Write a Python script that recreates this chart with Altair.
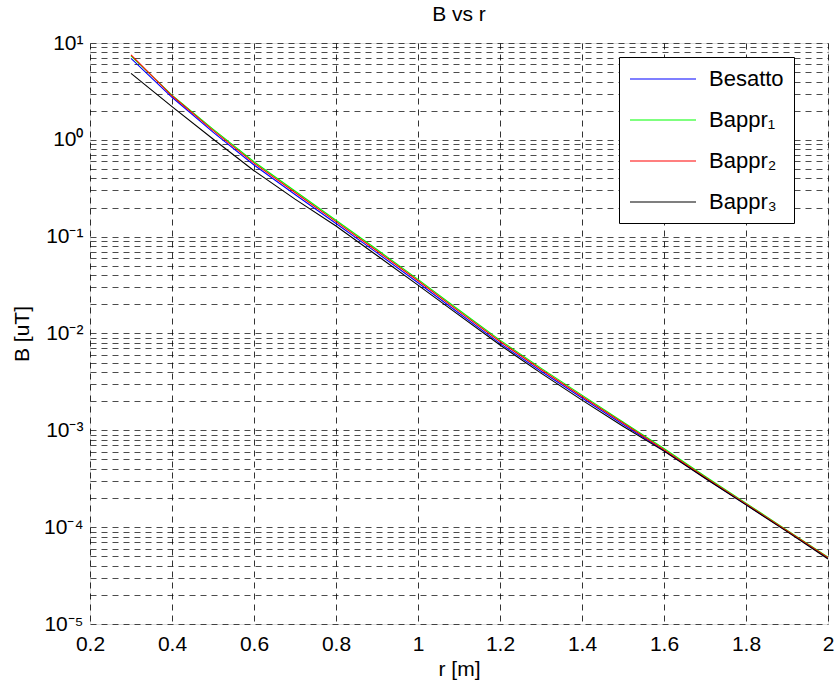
import altair as alt
import pandas as pd

r = [0.3, 0.4, 0.5, 0.6, 0.7, 0.8, 0.9, 1.0, 1.1, 1.2, 1.3, 1.4, 1.5, 1.6, 1.7, 1.8, 1.9, 2.0]
besatto = [6.95, 2.75, 1.2, 0.55, 0.273, 0.137, 0.068, 0.0334, 0.0162, 0.0079, 0.00407,
           0.00216, 0.00115, 6.2e-4, 3.22e-4, 1.71e-4, 9.1e-5, 4.8e-5]
bappr1 = [7.35, 2.90, 1.29, 0.594, 0.296, 0.148, 0.0736, 0.0362, 0.0175, 0.00855, 0.00439,
          0.00231, 0.00122, 6.5e-4, 3.36e-4, 1.77e-4, 9.31e-5, 4.9e-5]
bappr2 = [7.55, 2.85, 1.25, 0.575, 0.286, 0.143, 0.0712, 0.035, 0.0169, 0.00826, 0.00425,
          0.00224, 0.00119, 6.3e-4, 3.28e-4, 1.74e-4, 9.2e-5, 4.85e-5]
bappr3 = [4.86, 2.2, 1.02, 0.48, 0.244, 0.129, 0.0638, 0.0316, 0.0155, 0.0076, 0.0039,
          0.00205, 0.0011, 6.1e-4, 3.2e-4, 1.7e-4, 9.0e-5, 4.7e-5]

series_names = ["Besatto", "Bappr₁", "Bappr₂", "Bappr₃"]
series_colors = ["#0000ff", "#00ff00", "#ff0000", "#000000"]
x_ticks = [0.2, 0.4, 0.6, 0.8, 1.0, 1.2, 1.4, 1.6, 1.8, 2.0]
y_grid = [m * 10.0 ** e for e in range(-5, 1) for m in range(1, 10)] + [10.0]

rows = []
for name, vals in zip(series_names, [besatto, bappr1, bappr2, bappr3]):
    for i, (xv, yv) in enumerate(zip(r, vals)):
        rows.append({"r": xv, "B": yv, "series": name, "idx": i})
df = pd.DataFrame(rows)

FONT = "Liberation Sans"
E = "round(log(datum.value)/LN10)"
ylabel = (f"abs(log(datum.value)/LN10 - {E}) < 1e-6 ? '10' + ({E} < 0 ? '⁻' : '') + "
          f"['⁰','¹','²','³','⁴','⁵','⁶','⁷','⁸','⁹'][abs({E})] : ''")

chart = alt.Chart(df).mark_line(strokeWidth=1.1, clip=True).encode(
    x=alt.X("r:Q", scale=alt.Scale(domain=[0.2, 2.0], nice=False),
            axis=alt.Axis(title="r [m]", values=x_ticks, format="~g", grid=True,
                          gridColor="#000000", gridDash=[6, 5], gridOpacity=0.8,
                          domain=False, ticks=False, tickSize=0, labelFlush=False,
                          labelFont=FONT, labelFontSize=21, labelColor="#000000",
                          labelPadding=9, titleFont=FONT, titleFontSize=21,
                          titleFontWeight="normal", titleColor="#000000",
                          titleY=45, titleBaseline="middle")),
    y=alt.Y("B:Q", scale=alt.Scale(type="log", domain=[1e-5, 10], nice=False),
            axis=alt.Axis(title="B [uT]", values=y_grid, labelExpr=ylabel, grid=True,
                          gridColor="#000000", gridDash=[6, 5], gridOpacity=0.7,
                          domain=False, ticks=False, tickSize=0, labelOverlap=False,
                          labelFont=FONT, labelFontSize=21, labelColor="#000000",
                          labelPadding=7, titleFont=FONT, titleFontSize=21,
                          titleFontWeight="normal", titleColor="#000000",
                          titleX=-68, titleY=290.5, titleBaseline="middle")),
    color=alt.Color("series:N",
                    scale=alt.Scale(domain=series_names, range=series_colors),
                    legend=alt.Legend(title=None, orient="none", legendX=529, legendY=14,
                                      symbolType="M-1,0H5", symbolSize=484,
                                      symbolStrokeWidth=1.2, labelFont=FONT,
                                      labelFontSize=22, labelColor="#000000",
                                      labelOffset=56, rowPadding=18, padding=10,
                                      strokeColor="#000000", fillColor="#ffffff",
                                      cornerRadius=0)),
    order="idx:Q",
).properties(
    width=738, height=581,
    title=alt.TitleParams("B vs r", font=FONT, fontSize=21, fontWeight="normal",
                          color="#000000", anchor="middle", offset=7),
    autosize=alt.AutoSizeParams(type="none"),
    padding={"left": 90, "top": 43, "right": 9, "bottom": 63},
).configure_view(stroke="#000000", strokeWidth=1.2).configure(background="#ffffff")

chart.save("out.html", embed_options={"renderer": "svg", "actions": False})
